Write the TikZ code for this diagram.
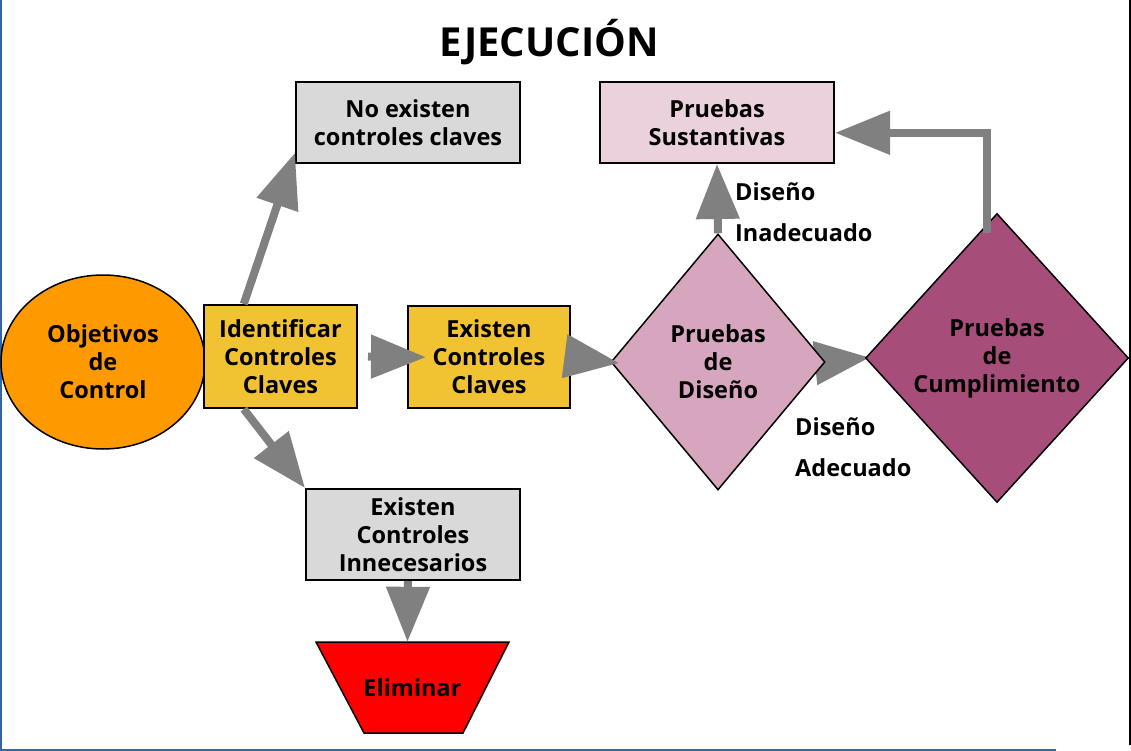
\documentclass[tikz,border=0pt]{standalone}
\usepackage{fontspec}
\setmainfont{Open Sans}
\usetikzlibrary{shapes.geometric,arrows.meta,backgrounds}
\definecolor{objcolor}{HTML}{FF9900}
\definecolor{goldcolor}{HTML}{F1C232}
\definecolor{boxgray}{HTML}{D9D9D9}
\definecolor{sustcolor}{HTML}{EAD1DC}
\definecolor{discolor}{HTML}{D5A6BD}
\definecolor{cumpcolor}{HTML}{A64D79}
\definecolor{arrowgray}{HTML}{808080}
\definecolor{frameblue}{HTML}{3465A4}
\begin{document}
\begin{tikzpicture}[x=1pt,y=-1pt,
  every node/.style={font=\fontsize{23.5}{28}\selectfont\bfseries, align=center, inner sep=0pt},
  box/.style={rectangle, draw, line width=2pt},
  rhomb/.style={diamond, draw, line width=1.5pt},
  lbl/.style={anchor=west, align=left, font=\fontsize{23.5}{41}\selectfont\bfseries},
  arr/.style={draw=arrowgray, line width=8pt, -{Triangle[length=55pt,width=42pt]}}]
  \useasboundingbox (0,0) rectangle (1131,751);
  \draw[frameblue, line width=2pt] (1,0) -- (1,751);
  \draw[frameblue, line width=2pt] (0,750) -- (1056,750);
  \draw[line width=2pt] (1130,0) -- (1130,745);
  \node[font=\fontsize{40}{48}\selectfont\bfseries] (title) at (549,42) {EJECUCIÓN};
  \node[ellipse, draw, line width=1.5pt, fill=objcolor, minimum width=204pt, minimum height=174pt] (obj) at (103,362) {Objetivos\\de\\Control};
  \node[box, fill=goldcolor, minimum width=153pt, minimum height=103pt] (ident) at (280.5,356.5) {Identificar\\Controles\\Claves};
  \node[box, fill=goldcolor, minimum width=162pt, minimum height=102pt] (exist) at (489,357) {Existen\\Controles\\Claves};
  \node[box, fill=boxgray, minimum width=224pt, minimum height=81pt] (noex) at (408,122.5) {No existen\\controles claves};
  \node[box, fill=sustcolor, minimum width=234pt, minimum height=81pt] (sust) at (717,122.5) {Pruebas\\Sustantivas};
  \node[box, fill=boxgray, minimum width=214pt, minimum height=91pt] (innec) at (413,534.5) {Existen\\Controles\\Innecesarios};
  \draw[fill=red, line width=1.5pt, line join=miter] (316,642) -- (509,642) -- (463,733) -- (364,733) -- cycle;
  \node[minimum height=91pt] (elim) at (412.5,687.5) {Eliminar};
  \node[rhomb, fill=discolor, minimum width=214pt, minimum height=256pt] (dis) at (718,362) {Pruebas\\de\\Diseño};
  \node[rhomb, fill=cumpcolor, minimum width=263pt, minimum height=289pt] (cump) at (997,358) {Pruebas\\de\\Cumplimiento};
  \draw[arr] (ident.125) -- (noex.195);
  \draw[arr] (ident.235) -- (innec.north west);
  \draw[arr, shorten <=10pt, shorten >=-19pt] (ident.east) -- (exist.west);
  \draw[arr, shorten <=-10pt, shorten >=-9pt] (exist.east) -- (dis.west);
  \draw[arr] (dis.north) -- (sust.south);
  \begin{scope}[on background layer]
    \draw[arr, shorten >=-5pt] (dis.east) -- (cump.west);
  \end{scope}
  \draw[arr] ([xshift=-10pt,yshift=-20pt]cump.north) |- (sust.-5);
  \draw[arr] ([xshift=-5pt]innec.south) -- ([xshift=-5pt]elim.north);
  \node[lbl] (inad) at (735,212) {Diseño\\Inadecuado};
  \node[lbl] (adec) at (795,447) {Diseño\\Adecuado};
\end{tikzpicture}
\end{document}
